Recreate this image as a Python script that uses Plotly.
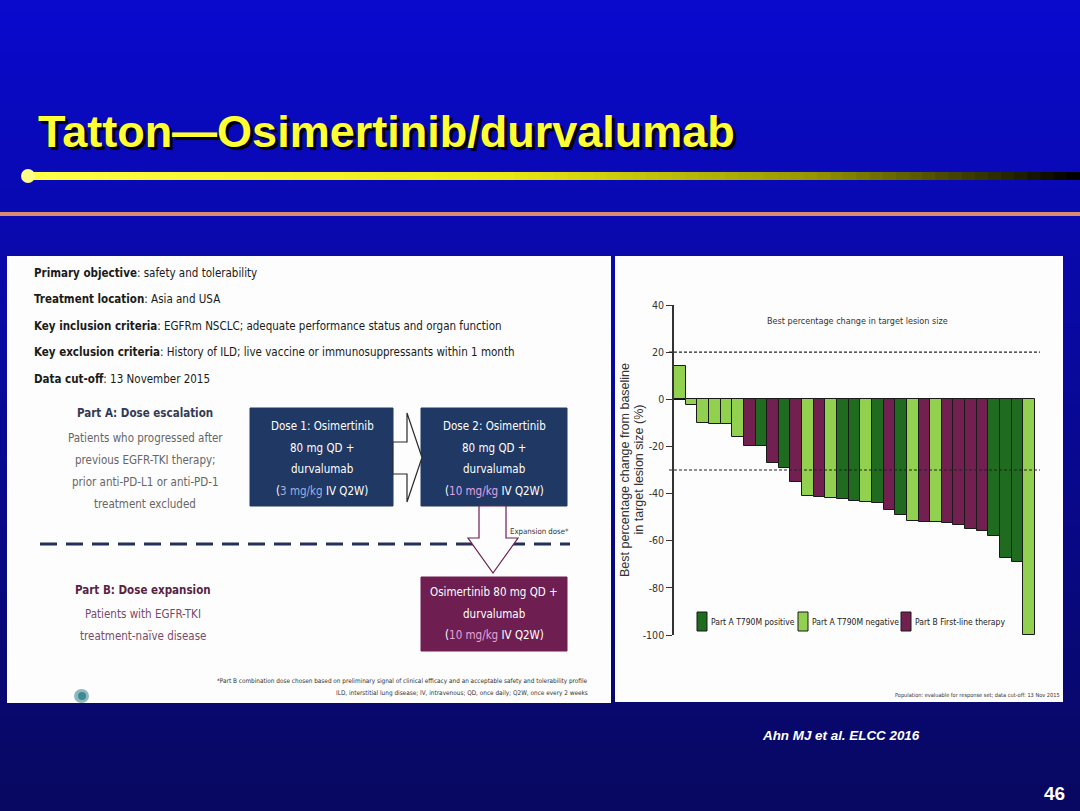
import plotly.graph_objects as go

# ---------------- data ----------------
patients = list(range(1, 32))
best_change = [14, -2.5, -10, -10.5, -10.5, -16, -20, -20, -27, -29, -35, -41, -41.5, -42,
               -42.5, -43, -43.5, -44, -47, -49, -51.5, -52, -52, -52.5, -53.5, -55, -56,
               -58, -67.5, -69, -100]
groups = ["neg", "neg", "neg", "neg", "neg", "neg", "B", "pos", "B", "pos", "B", "neg", "B",
          "neg", "pos", "pos", "neg", "pos", "B", "pos", "neg", "B", "neg", "B", "B", "B",
          "B", "pos", "pos", "pos", "neg"]
group_keys = ["pos", "neg", "B"]
group_names = ["Part A T790M positive", "Part A T790M negative", "Part B First-line therapy"]
group_colors = ["#1f6b1f", "#92d050", "#722050"]
ref_lines = [20, -30]
y_tickvals = [-100, -80, -60, -40, -20, 0, 20, 40]
y_ticktext = ["-100", "-80", "-60", "-40", "-20", "0", "20", "40"]
y_title_lines = ["Best percentage change from baseline", "in target lesion size (%)"]

# ---------------- helpers ----------------
W, H = 1080, 811
def X(p): return p / W
def Y(p): return 1 - p / H
NARROW = "Liberation Sans Narrow, Arial Narrow, DejaVu Sans Condensed, sans-serif"
SANS = "Liberation Sans, Arial, sans-serif"

fig = go.Figure()

for key, name, col in zip(group_keys, group_names, group_colors):
    xs = [p for p, g in zip(patients, groups) if g == key]
    ys = [v for v, g in zip(best_change, groups) if g == key]
    fig.add_trace(go.Bar(x=xs, y=ys, name=name, width=1,
                         marker=dict(color=col, line=dict(color="#1a1a1a", width=1)),
                         showlegend=False))

shapes = []
anns = []

# background gradient
n = 60
c0, c1 = (10, 10, 205), (8, 8, 98)
for i in range(n):
    t = i / (n - 1)
    c = tuple(int(c0[k] + (c1[k] - c0[k]) * t) for k in range(3))
    top = -20 if i == 0 else H * i / n - 1
    bot = H + 20 if i == n - 1 else H * (i + 1) / n + 1
    shapes.append(dict(type="rect", xref="paper", yref="paper", x0=-0.02, x1=1.02,
                       y0=Y(bot), y1=Y(top), line=dict(width=0),
                       fillcolor="rgb(%d,%d,%d)" % c, layer="below"))

# yellow gradient bar
stops = [(0.0, (255, 255, 70)), (0.45, (235, 235, 20)), (0.75, (150, 150, 0)), (1.0, (0, 0, 0))]
def grad(t):
    for (a, ca), (b, cb) in zip(stops[:-1], stops[1:]):
        if a <= t <= b:
            u = (t - a) / (b - a)
            return tuple(int(ca[k] + (cb[k] - ca[k]) * u) for k in range(3))
    return stops[-1][1]
segs = 80
x_start, x_end = 28, 1080
for i in range(segs):
    xa = x_start + (x_end - x_start) * i / segs
    xb = x_start + (x_end - x_start) * (i + 1) / segs + 1
    c = grad(i / (segs - 1))
    shapes.append(dict(type="rect", xref="paper", yref="paper", x0=X(xa), x1=min(1, X(xb)),
                       y0=Y(180), y1=Y(172), line=dict(width=0),
                       fillcolor="rgb(%d,%d,%d)" % c, layer="below"))
shapes.append(dict(type="circle", xref="paper", yref="paper", x0=X(21), x1=X(35),
                   y0=Y(183), y1=Y(169), line=dict(width=0), fillcolor="#ffff8a", layer="below"))
# salmon line
shapes.append(dict(type="rect", xref="paper", yref="paper", x0=0, x1=1, y0=Y(216), y1=Y(212),
                   line=dict(width=0), fillcolor="#d98a70", layer="below"))

# white panels
shapes.append(dict(type="rect", xref="paper", yref="paper", x0=X(7), x1=X(611), y0=Y(703), y1=Y(256),
                   line=dict(width=0), fillcolor="#fdfdfd", layer="below"))
shapes.append(dict(type="rect", xref="paper", yref="paper", x0=X(615), x1=X(1063), y0=Y(702), y1=Y(256),
                   line=dict(width=0), fillcolor="#fdfdfd", layer="below"))

# reference dashed lines in chart
for v in ref_lines:
    shapes.append(dict(type="line", xref="paper", yref="y", x0=X(669), x1=X(1040), y0=v, y1=v,
                       line=dict(color="#222", width=1.2, dash="3px,2px"), layer="above"))

# left panel: dashed separator
shapes.append(dict(type="line", xref="paper", yref="paper", x0=X(40), x1=X(570), y0=Y(544), y1=Y(544),
                   line=dict(color="#24305a", width=3, dash="17px,9px")))
# boxes
def box(x0, y0, x1, y1, col):
    shapes.append(dict(type="rect", xref="paper", yref="paper", x0=X(x0), x1=X(x1), y0=Y(y1), y1=Y(y0),
                       line=dict(color=col, width=1), fillcolor=col))
box(250, 408, 393, 506, "#203864")
box(421, 408, 567, 506, "#203864")
box(421, 577, 567, 651, "#6e1e50")

def path(pts):
    return "M " + " L ".join("%.5f,%.5f" % (X(a), Y(b)) for a, b in pts) + " Z"
# right arrow
shapes.append(dict(type="path", xref="paper", yref="paper",
                   path=path([(393, 442), (407, 442), (407, 413), (422, 457.5), (407, 502),
                              (407, 474), (393, 474)]),
                   line=dict(color="#2a2a2a", width=1.2), fillcolor="#fdfdfd"))
# down arrow
shapes.append(dict(type="path", xref="paper", yref="paper",
                   path=path([(479, 506), (506, 506), (506, 538), (518, 538), (493, 573),
                              (468, 538), (479, 538)]),
                   line=dict(color="#6e1e50", width=1.2), fillcolor="#fdfdfd"))
# small logo remnant
shapes.append(dict(type="circle", xref="paper", yref="paper", x0=X(74), x1=X(89), y0=Y(703), y1=Y(689),
                   line=dict(width=0), fillcolor="#8fb9c0"))
shapes.append(dict(type="circle", xref="paper", yref="paper", x0=X(78), x1=X(86), y0=Y(700), y1=Y(692),
                   line=dict(width=0), fillcolor="#3f8a90"))

def ann(x, y, text, size, color="#222", family=NARROW, xanchor="left", **kw):
    anns.append(dict(x=X(x), y=Y(y), xref="paper", yref="paper", text=text, showarrow=False,
                     xanchor=xanchor, yanchor="middle", font=dict(family=family, size=size, color=color), **kw))

def lines(x, y0, dy, texts, size, color, xanchor="center"):
    for i, t in enumerate(texts):
        ann(x, y0 + i * dy, t, size, color=color, xanchor=xanchor)

# manual legend
leg_sq = [697, 798, 901]
for sx, name, col in zip(leg_sq, group_names, group_colors):
    shapes.append(dict(type="rect", xref="paper", yref="paper", x0=X(sx), x1=X(sx + 10),
                       y0=Y(631), y1=Y(612), line=dict(color="#1a1a1a", width=1), fillcolor=col))
    ann(sx + 12, 622, name, 8.5, color="#222")

# y-axis title (two rotated lines)
for i, t in enumerate(y_title_lines):
    anns.append(dict(x=X(625 + i * 13.5), y=Y(470), xref="paper", yref="paper", text=t,
                     showarrow=False, textangle=-90, xanchor="center", yanchor="middle",
                     font=dict(family=SANS, size=12.5, color="#333")))

# title
ann(36, 132, "<b>Tatton—Osimertinib/durvalumab</b>", 45, color="#ffff33", family=SANS)
anns[-1]["font"]["shadow"] = "3px 3px 1px #000"

# left panel text
info = [("Primary objective", "safety and tolerability"),
        ("Treatment location", "Asia and USA"),
        ("Key inclusion criteria", "EGFRm NSCLC; adequate performance status and organ function"),
        ("Key exclusion criteria", "History of ILD; live vaccine or immunosuppressants within 1 month"),
        ("Data cut-off", "13 November 2015")]
for i, (b, r) in enumerate(info):
    ann(32, 273 + i * 26.5, "<b>%s</b>: %s" % (b, r), 11.5, color="#1a1a1a")

ann(145, 413, "<b>Part A: Dose escalation</b>", 11.5, color="#333a55", xanchor="center")
lines(145, 438, 22, ["Patients who progressed after", "previous EGFR-TKI therapy;",
                     "prior anti-PD-L1 or anti-PD-1", "treatment excluded"], 11.5, "#666")
ann(143, 590, "<b>Part B: Dose expansion</b>", 11.5, color="#5a1f44", xanchor="center")
lines(143, 614, 22, ["Patients with EGFR-TKI", "treatment-naïve disease"], 11.5, "#7a4a6c")

lines(322, 426, 21.7, ["Dose 1: Osimertinib", "80 mg QD +", "durvalumab",
                       "(<span style='color:#9fb2dc'>3 mg/kg</span> IV Q2W)"], 11.5, "#ffffff")
lines(494, 426, 21.7, ["Dose 2: Osimertinib", "80 mg QD +", "durvalumab",
                       "(<span style='color:#e3a3e3'>10 mg/kg</span> IV Q2W)"], 11.5, "#ffffff")
lines(494, 592, 21.5, ["Osimertinib 80 mg QD +", "durvalumab",
                       "(<span style='color:#e8a3d8'>10 mg/kg</span> IV Q2W)"], 11.5, "#ffffff")
ann(508, 531, "Expansion dose*", 7.8, color="#333")
lines(590, 681, 12, ["*Part B combination dose chosen based on preliminary signal of clinical efficacy and an acceptable safety and tolerability profile",
                     "ILD, interstitial lung disease; IV, intravenous; QD, once daily; Q2W, once every 2 weeks"],
      6.4, "#333", xanchor="right")

# right panel text
ann(857, 321, "Best percentage change in target lesion size", 9, color="#333", xanchor="center")
ann(1062, 695, "Population: evaluable for response set; data cut-off: 13 Nov 2015", 5.6, color="#333", xanchor="right")

# slide footer
ann(760, 735, "<b><i>Ahn MJ et al. ELCC 2016</i></b>", 13.4, color="#ffffff", family=SANS)
ann(1067, 793, "<b>46</b>", 19, color="#ffffff", family=SANS, xanchor="right")

fig.update_layout(
    width=W, height=H, autosize=False,
    margin=dict(l=0, r=0, t=0, b=0, pad=0, autoexpand=False),
    paper_bgcolor="#08086a", plot_bgcolor="#fdfdfd",
    barmode="overlay", bargap=0,
    shapes=shapes, annotations=anns, showlegend=False,
    xaxis=dict(domain=[X(674), X(1035)], range=[0.5, 31.5], visible=False),
    yaxis=dict(domain=[Y(635), Y(305)], range=[-100, 40], tickvals=y_tickvals, ticktext=y_ticktext,
               showgrid=False, zeroline=True, zerolinecolor="#111", zerolinewidth=1.2,
               showline=True, linecolor="#333", linewidth=1.5, ticks="outside", ticklen=6,
               tickcolor="#333", tickfont=dict(family=NARROW, size=10.5, color="#333")),
)

fig.write_html("out.html", config={"displayModeBar": False},
               post_script="document.body.style.margin='0';document.body.style.overflow='hidden';")
